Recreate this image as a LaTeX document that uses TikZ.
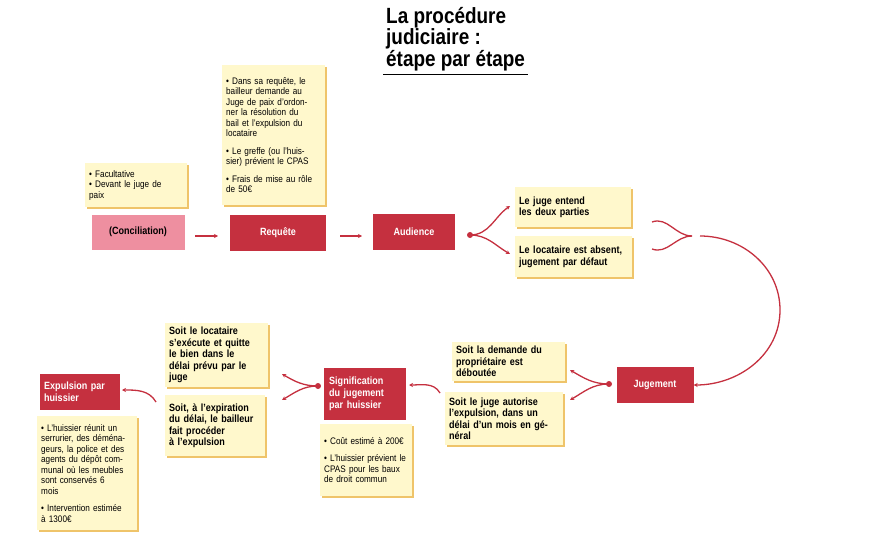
\documentclass[tikz,border=0pt]{standalone}
\usepackage{fontspec}
\setmainfont{Liberation Sans}[FakeStretch=0.86]
\usetikzlibrary{arrows.meta}
\definecolor{rouge}{HTML}{C5303F}
\definecolor{rose}{HTML}{EE8FA0}
\definecolor{jaune}{HTML}{FFF8CC}
\definecolor{ombre}{HTML}{EFC46A}
\tikzset{
  note/.style={fill=jaune, align=left, inner sep=4pt, anchor=north west,
    font=\fontsize{9.5}{10.5}\selectfont,
    preaction={fill=ombre, transform canvas={xshift=2pt, yshift=-2pt}}},
  bnote/.style={note, font=\fontsize{10.5}{11.5}\selectfont\bfseries},
  etape/.style={fill=rouge, text=white, font=\fontsize{10.5}{12}\selectfont\bfseries,
    align=left, inner sep=3pt},
  fl/.style={rouge, line width=1.3pt, -{Stealth[length=4pt, width=4pt]}},
  pt/.style={circle, fill=rouge, inner sep=0pt, minimum size=6pt}
}
\begin{document}
\begin{tikzpicture}[x=1pt, y=-1pt]
\useasboundingbox (0,0) rectangle (880,540);

% titre
\node[anchor=north west, align=left, font=\fontsize{22}{21.5}\selectfont\bfseries, inner sep=0pt]
  (titre) at (386,7) {La procédure\\judiciaire :\\étape par étape};
\draw[line width=1pt] (383,75) -- (528,75);

% premiere ligne
\node[note, minimum width=102pt, minimum height=44pt, text width=94pt] (nConc) at (85,163)
  {• Facultative\\• Devant le juge de\\paix};
\node[fill=rose, minimum width=93pt, minimum height=35pt, font=\fontsize{10.5}{12}\selectfont\bfseries] (conc) at (138,232) {(Conciliation)};
\node[note, text width=95pt, minimum height=140pt] (nReq) at (222,65)
  {• Dans sa requête, le\\bailleur demande au\\Juge de paix d'ordon-\\ner la résolution du\\bail et l'expulsion du\\locataire\\[7pt]
   • Le greffe (ou l'huis-\\sier) prévient le CPAS\\[7pt]• Frais de mise au rôle\\de 50€};
\node[etape, minimum width=96pt, minimum height=36pt, align=center] (req) at (278,233) {Requête};
\node[etape, minimum width=82pt, minimum height=36pt, align=center] (aud) at (414,232) {Audience};
\node[bnote, text width=108pt, minimum height=40pt] (n1) at (515,187) {Le juge entend\\les deux parties};
\node[bnote, text width=109pt, minimum height=41pt] (n2) at (515,236) {Le locataire est absent,\\jugement par défaut};

\draw[fl] (195,236) -- (218,236);
\draw[fl] (340,236) -- (362,236);
\node[pt] (f1) at (470,235) {};
\draw[fl] (f1.center) to[out=0, in=215] (510,206);
\draw[fl] (f1.center) to[out=0, in=150] (510,254);

% vers le jugement
\coordinate (j0) at (692,236);
\draw[rouge, line width=1.3pt] (652,222) to[out=20, in=180] (j0);
\draw[rouge, line width=1.3pt] (652,249) to[out=-20, in=180] (j0);
\node[etape, minimum width=77pt, minimum height=36pt, align=center] (jug) at (655,385) {Jugement};
\draw[fl] (700,236) to[out=0, in=90] (780,310) to[out=-90, in=0] (jug.east);

% seconde ligne
\node[pt] (f2) at (609,384) {};
\node[bnote, text width=105pt, minimum height=38pt] (n3) at (452,342) {Soit la demande du\\propriétaire est\\déboutée};
\node[bnote, text width=110pt, minimum height=53pt] (n4) at (445,392) {Soit le juge autorise\\l'expulsion, dans un\\délai d'un mois en gé-\\néral};
\draw[fl] (f2.center) to[out=180, in=-30] (570,370);
\draw[fl] (f2.center) to[out=180, in=30] (570,400);

\node[etape, minimum width=82pt, minimum height=52pt, text width=72pt, anchor=north west] (sig) at (324,368) {Signification\\du jugement\\par huissier};
\coordinate (sigE) at (409,385);
\draw[fl] (440,393) to[out=120, in=0] (sigE);
\node[note, text width=84pt, minimum height=72pt] (nSig) at (320,424)
  {• Coût estimé à 200€\\[7pt]• L'huissier prévient le\\CPAS pour les baux\\de droit commun};

\node[pt] (f3) at (318,386) {};
\node[bnote, text width=95pt, minimum height=62pt] (n5) at (165,323) {Soit le locataire\\s'exécute et quitte\\le bien dans le\\délai prévu par le\\juge};
\node[bnote, text width=92pt, minimum height=61pt] (n6) at (165,395) {Soit, à l'expiration\\du délai, le bailleur\\fait procéder\\à l'expulsion};
\draw[fl] (f3.center) to[out=180, in=-30] (282,374);
\draw[fl] (f3.center) to[out=180, in=30] (282,400);

\node[etape, minimum width=80pt, minimum height=36pt, text width=72pt, anchor=north west] (exp) at (40,374) {Expulsion par\\huissier};
\coordinate (expE) at (122,390);
\draw[fl] (156,402) to[out=120, in=0] (expE);
\node[note, text width=92pt, minimum height=114pt] (nExp) at (37,416)
  {• L'huissier réunit un\\serrurier, des déména-\\geurs, la police et des\\agents du dépôt com-\\munal où les meubles\\sont conservés 6\\mois\\[7pt]• Intervention estimée\\à 1300€};
\end{tikzpicture}
\end{document}
